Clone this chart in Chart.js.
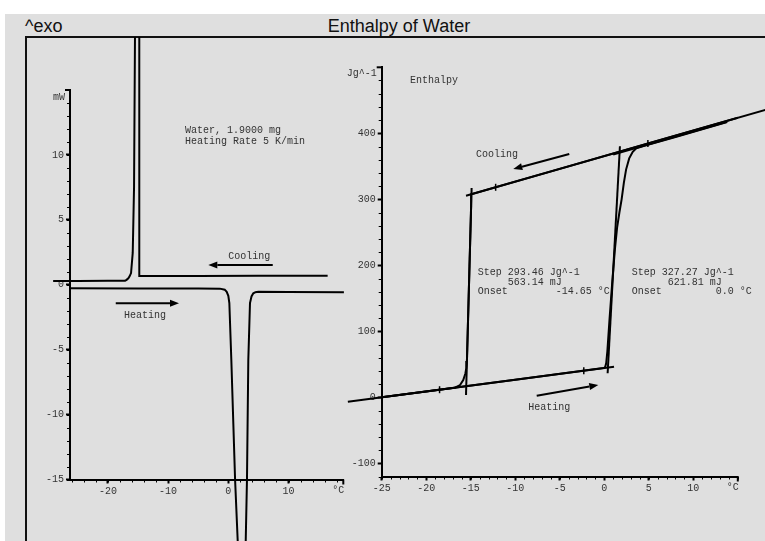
<!DOCTYPE html>
<html><head><meta charset="utf-8">
<script src="https://cdn.jsdelivr.net/npm/chart.js@4.4.0/dist/chart.umd.min.js"></script>
<style>
html,body{margin:0;padding:0;background:#fff;}
#wrap{position:relative;width:765px;height:541px;overflow:hidden;}
#frame{position:absolute;left:5px;top:14px;width:760px;height:527px;background:#dfdfdf;}
.hl{position:absolute;left:25px;top:36px;width:740px;height:2px;background:#111;}
.vl{position:absolute;left:25px;top:36px;width:2px;height:505px;background:#111;}
.t{position:absolute;font-family:"Liberation Sans",Arial,sans-serif;font-size:18px;color:#111;line-height:18px;white-space:nowrap;}
canvas{position:absolute;left:0;top:0;}
</style></head>
<body><div id="wrap">
<div id="frame"></div><div class="hl"></div><div class="vl"></div>
<div class="t" style="left:25px;top:17px">^exo</div>
<div class="t" style="left:0;width:798px;text-align:center;top:17px">Enthalpy of Water</div>
<canvas id="c1" width="765" height="541"></canvas>
<canvas id="c2" width="765" height="541"></canvas>
</div>
<script>
// ---------- Left panel: DSC heat flow (mW) vs temperature (°C) ----------
const dscCoolT = [16.5, 5, -5, -14.7, -14.78, -14.8, -15.2, -15.5, -15.66, -15.88, -16.16, -16.4, -16.61, -16.9, -17.16, -20, -25, -29.1];
const dscCoolP = [0.70, 0.69, 0.68, 0.67, 1.5, 24, 26, 19.5, 7.55, 2.45, 0.9, 0.65, 0.5, 0.38, 0.31, 0.30, 0.29, 0.29];
const dscHeatT = [-26.3, -15, -5, -1.4, -0.6, -0.27, 0.0, 0.17, 0.5, 1.12, 1.56, 2.3, 2.89, 3.1, 3.32, 3.6, 3.85, 4.15, 4.5, 4.98, 10, 19.2];
const dscHeatP = [-0.27, -0.28, -0.29, -0.30, -0.38, -0.54, -0.85, -1.41, -5.8, -14.97, -19.74, -30, -19.74, -14.97, -5.77, -1.41, -0.9, -0.66, -0.57, -0.54, -0.56, -0.58];
const dscXTicks = [-20, -10, 0, 10];
const dscYTicks = [-15, -10, -5, 0, 5, 10];

// ---------- Right panel: enthalpy (J/g) vs temperature (°C) ----------
const enCoolT = [15, 5, -5, -14.95, -14.954, -15.155, -15.362, -15.426, -15.5, -15.6, -15.84, -16.2, -16.77, -20, -25];
const enCoolH = [423.5, 384.8, 346.1, 307.5, 290, 190, 87, 55, 44, 36, 26.2, 18.6, 14.6, 8.9, 0];
const enHeatT = [-25, -10, -2, -0.5, 0, 0.12, 0.22, 0.35, 0.6, 0.9, 1.2, 1.45, 1.7, 1.95, 2.2, 2.45, 2.8, 3.2, 3.6, 4.5, 8, 13.8];
const enHeatH = [0, 26.6, 40.9, 43.5, 44.5, 46.5, 52, 70, 120, 175, 225, 258, 280, 300, 325, 345, 362, 372, 377.4, 380.9, 394.5, 417];
const enSolidBaseT = [-28.8, 1.1];
const enSolidBaseH = [-6.75, 46.35];
const enLiquidBaseT = [-15.53, 18.1];
const enLiquidBaseH = [305.3, 435.6];
const enHeatLiqBaseT = [1.0, 13.8];
const enHeatLiqBaseH = [367.8, 417.5];
const enStep1T = [-14.9, -15.53];
const enStep1H = [317, 3.5];
const enStep2T = [1.76, 0.38];
const enStep2H = [380.3, 36.4];
const enMarkT = [-18.5, -2.3, -12.2, 4.9];
const enMarkH = [11.5, 40.3, 318.2, 384.4];
const enXTicks = [-25, -20, -15, -10, -5, 0, 5, 10];
const enYTicks = [-100, 0, 100, 200, 300, 400];

function pts(xs, ys) { return xs.map((x, i) => ({x: x, y: ys[i]})); }

const MONO = '"Liberation Mono", "DejaVu Sans Mono", monospace';

function scale(min, max, majors, pos, size) {
  return {
    type: 'linear', position: pos, min: min, max: max,
    afterBuildTicks: s => { s.ticks = majors.map(v => ({value: v})); },
    afterFit: s => { if (pos === 'bottom') s.height = size; else s.width = size; },
    ticks: {font: {family: MONO, size: 10}, color: '#333', padding: 2, maxRotation: 0, minRotation: 0,
            autoSkip: false, callback: v => String(v)},
    grid: {display: true, drawOnChartArea: false, drawTicks: true, tickLength: 4, tickWidth: 2, tickColor: '#000'},
    border: {display: true, color: '#000', width: 2}
  };
}

const annotPlugin = {
  id: 'annot',
  afterDraw(chart, args, o) {
    const ctx = chart.ctx, xs = chart.scales.x, ys = chart.scales.y, ca = chart.chartArea;
    ctx.save();
    ctx.strokeStyle = '#000'; ctx.fillStyle = '#000'; ctx.lineWidth = 1;
    // minor ticks
    for (let k = Math.ceil(xs.min / o.minorX); k * o.minorX <= xs.max + 1e-9; k++) {
      const p = Math.round(xs.getPixelForValue(k * o.minorX)) + 0.5;
      ctx.beginPath(); ctx.moveTo(p, ca.bottom); ctx.lineTo(p, ca.bottom + 3); ctx.stroke();
    }
    for (let k = Math.ceil(ys.min / o.minorY); k * o.minorY <= ys.max + 1e-9; k++) {
      const p = Math.round(ys.getPixelForValue(k * o.minorY)) + 0.5;
      ctx.beginPath(); ctx.moveTo(ca.left - 3, p); ctx.lineTo(ca.left, p); ctx.stroke();
    }
    // end brackets
    ctx.lineWidth = 2;
    ctx.beginPath(); ctx.moveTo(ca.left - 5, ca.top); ctx.lineTo(ca.left, ca.top); ctx.stroke();
    ctx.beginPath(); ctx.moveTo(ca.right, ca.bottom); ctx.lineTo(ca.right, ca.bottom + 5); ctx.stroke();
    // unit labels
    ctx.font = '10px ' + MONO; ctx.fillStyle = '#333'; ctx.textBaseline = 'middle';
    ctx.textAlign = 'right';
    ctx.fillText(o.yUnit, ca.left - 5, ca.top + o.yUnitDy);
    ctx.fillText('°C', ca.right + 1, ca.bottom + 11);
    // texts
    ctx.textAlign = 'left';
    o.texts.forEach(t => ctx.fillText(t.s, xs.getPixelForValue(t.x), ys.getPixelForValue(t.y)));
    // arrows
    ctx.strokeStyle = '#000'; ctx.fillStyle = '#000'; ctx.lineWidth = 2;
    o.arrows.forEach(a => {
      const x1 = xs.getPixelForValue(a.x1), y1 = ys.getPixelForValue(a.y1);
      const x2 = xs.getPixelForValue(a.x2), y2 = ys.getPixelForValue(a.y2);
      const ang = Math.atan2(y2 - y1, x2 - x1), L = 9, W = 3.5;
      const bx = x2 - L * Math.cos(ang), by = y2 - L * Math.sin(ang);
      ctx.beginPath(); ctx.moveTo(x1, y1); ctx.lineTo(bx, by); ctx.stroke();
      ctx.beginPath(); ctx.moveTo(x2, y2);
      ctx.lineTo(bx + W * Math.sin(ang), by - W * Math.cos(ang));
      ctx.lineTo(bx - W * Math.sin(ang), by + W * Math.cos(ang));
      ctx.closePath(); ctx.fill();
    });
    ctx.restore();
  }
};

function lineDs(data, clip, w) {
  return {data: data, showLine: true, pointRadius: 0, borderColor: '#000', backgroundColor: '#000',
          borderWidth: w || 2, tension: 0, fill: false, clip: clip};
}

const leftClip = {left: 20, top: 53, right: 5, bottom: 62};
new Chart(document.getElementById('c1'), {
  type: 'scatter',
  data: {datasets: [
    lineDs(pts(dscCoolT, dscCoolP), leftClip),
    lineDs(pts(dscHeatT, dscHeatP), leftClip)
  ]},
  options: {
    responsive: false, animation: false, devicePixelRatio: 1,
    layout: {padding: {left: 30, top: 90, right: 421.7, bottom: 31.5}},
    scales: {
      x: scale(-26.3, 19.1, dscXTicks, 'bottom', 30),
      y: scale(-15, 15, dscYTicks, 'left', 40)
    },
    plugins: {
      legend: {display: false}, tooltip: {enabled: false},
      annot: {
        minorX: 2, minorY: 1, yUnit: 'mW', yUnitDy: 7,
        texts: [
          {s: 'Water, 1.9000 mg', x: -7.19, y: 11.87},
          {s: 'Heating Rate 5 K/min', x: -7.19, y: 11.07},
          {s: 'Cooling', x: 0, y: 2.16},
          {s: 'Heating', x: -17.33, y: -2.38}
        ],
        arrows: [
          {x1: 7.38, y1: 1.52, x2: -3.32, y2: 1.52},
          {x1: -18.7, y1: -1.43, x2: -8.19, y2: -1.43}
        ]
      }
    }
  },
  plugins: [annotPlugin]
});

new Chart(document.getElementById('c2'), {
  type: 'scatter',
  data: {datasets: [
    lineDs(pts(enSolidBaseT, enSolidBaseH), false),
    lineDs(pts(enLiquidBaseT, enLiquidBaseH), false),
    lineDs(pts(enHeatLiqBaseT, enHeatLiqBaseH), false),
    lineDs(pts(enStep1T, enStep1H), false),
    lineDs(pts(enStep2T, enStep2H), false),
    lineDs(pts(enCoolT, enCoolH), false),
    lineDs(pts(enHeatT, enHeatH), false),
    {data: pts(enMarkT, enMarkH), showLine: false, pointStyle: 'line', rotation: 90, pointRadius: 3.5,
     borderColor: '#000', borderWidth: 1.5, clip: false}
  ]},
  options: {
    responsive: false, animation: false, devicePixelRatio: 1,
    layout: {padding: {left: 341.7, top: 67.3, right: 27.2, bottom: 34.5}},
    scales: {
      x: scale(-25, 15, enXTicks, 'bottom', 30),
      y: scale(-120, 500, enYTicks, 'left', 40)
    },
    plugins: {
      legend: {display: false}, tooltip: {enabled: false},
      annot: {
        minorX: 1, minorY: 20, yUnit: 'Jg^-1', yUnitDy: 6,
        texts: [
          {s: 'Enthalpy', x: -21.82, y: 480.8},
          {s: 'Cooling', x: -14.41, y: 368.6},
          {s: 'Step 293.46 Jg^-1', x: -14.22, y: 189.4},
          {s: '     563.14 mJ', x: -14.22, y: 174.2},
          {s: 'Onset        -14.65 °C', x: -14.22, y: 160.0},
          {s: 'Step 327.27 Jg^-1', x: 3.08, y: 189.4},
          {s: '      621.81 mJ', x: 3.08, y: 174.2},
          {s: 'Onset         0.0 °C', x: 3.08, y: 160.0},
          {s: 'Heating', x: -8.54, y: -15.8}
        ],
        arrows: [
          {x1: -3.93, y1: 368.6, x2: -10.22, y2: 345.9},
          {x1: -7.59, y1: 2.4, x2: -0.67, y2: 18.6}
        ]
      }
    }
  },
  plugins: [annotPlugin]
});
</script>
</body></html>
